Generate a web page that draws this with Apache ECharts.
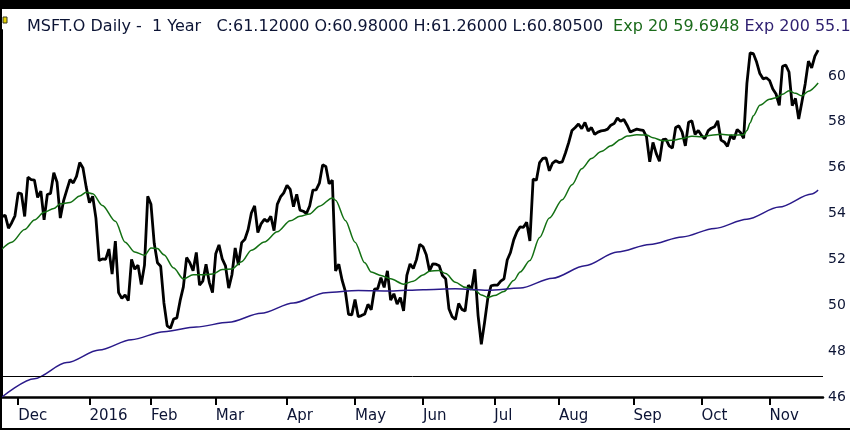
<!DOCTYPE html>
<html>
<head>
<meta charset="utf-8">
<script src="https://cdn.jsdelivr.net/npm/echarts@6/dist/echarts.min.js"></script>
<style>
  html, body { margin: 0; padding: 0; background: #fff; }
  #chart { width: 850px; height: 430px; }
</style>
</head>
<body>
<div id="chart"></div>
<script>
// daily closes, trading day 0 = 23 Nov 2015 ... 252 = 22 Nov 2016
const closeVals = [
  53.88, 53.92, 53.36, 53.60, 53.90, // Nov
  54.90, 54.86, 53.87, 55.58, 55.48, 55.46, 54.70, 54.97, 53.72, 54.83, 54.88,
  55.78, 55.36, 53.80, 54.55, 55.02, 55.48, 55.33, 55.62, 56.22, 55.98, 55.15, // Dec
  54.47, 54.75, 53.80, 51.95, 52.02, 52.00, 52.45, 51.36, 52.80, 50.55, 50.30,
  50.45, 50.20, 52.00, 51.57, 51.75, 50.90, 51.75, 54.75, // Jan
  54.40, 52.70, 51.85, 51.70, 50.10, 49.10, 49.00, 49.40, 49.45, 50.20, 50.80,
  52.08, 51.85, 51.50, 52.30, 50.88, 51.05, 51.79, 51.00, 50.55, // Feb
  52.25, 52.63, 52.02, 51.72, 50.75, 51.33, 52.50, 51.75, 52.73, 52.88, 53.30,
  54.02, 54.33, 53.17, 53.55, 53.75, 53.65, 53.88, 53.25, 54.40, 54.72, 54.90, // Mar
  55.23, 55.05, 54.30, 54.84, 54.15, 54.10, 54.00, 54.33, 55.02, 55.03, 55.32,
  56.12, 56.05, 55.30, 55.45, 51.50, 51.79, 51.10, 50.62, 49.60, 49.58, // Apr
  50.25, 49.50, 49.55, 49.62, 50.04, 49.80, 50.70, 50.72, 51.20, 50.78, 51.50,
  50.22, 50.50, 50.05, 50.33, 49.75, 51.30, 51.80, 51.60, 52.00, 52.66, // May
  52.55, 52.20, 51.50, 51.80, 51.79, 51.72, 51.30, 51.15, 49.85, 49.50, 49.38,
  50.08, 49.82, 49.75, 50.88, 50.68, 51.57, 49.55, 48.30, 49.25, 50.30, 50.85, // Jun
  50.88, 50.88, 51.05, 51.15, 51.97, 52.30, 52.85, 53.20, 53.42, 53.40, 53.62,
  52.80, 55.50, 55.45, 56.22, 56.40, 56.42, 55.86, 56.20, 56.30, // Jul
  56.22, 56.25, 56.65, 57.10, 57.62, 57.75, 57.90, 57.70, 57.97, 57.60, 57.75, 57.45,
  57.55, 57.60, 57.62, 57.68, 57.85, 57.92, 58.16, 58.02, 58.10, 57.85, 57.55, // Aug
  57.62, 57.68, 57.65, 57.62, 57.35, 56.25, 57.10, 56.62, 56.28, 57.22, 57.24,
  56.95, 56.85, 57.75, 57.82, 57.55, 56.95, 57.98, 58.04, 57.45, 57.62, // Sep
  57.40, 57.26, 57.60, 57.72, 57.78, 58.04, 57.20, 57.12, 56.93, 57.40, 57.24,
  57.66, 57.53, 57.28, 59.66, 61.00, 60.97, 60.60, 60.10, 59.87, 59.92, // Oct
  59.80, 59.43, 59.21, 58.71, 60.42, 60.47, 60.17, 58.70, 59.02, 58.12, 58.87,
  59.65, 60.64, 60.35, 60.86, 61.12 // Nov
];

// Exp 20 at these trading days
const ema20Days = [0, 3, 7, 10, 13, 16, 18, 21, 24, 26, 28, 31, 35, 38, 41, 44, 46, 48, 50, 53,
  56, 59, 62, 65, 68, 71, 74, 77, 81, 85, 89, 92, 95, 98, 102, 103, 106, 109, 112, 114,
  117, 120, 124, 127, 130, 132, 135, 137, 140, 143, 146, 148, 150, 152, 155, 158, 160, 163, 166, 169,
  173, 176, 179, 182, 185, 188, 191, 193, 196, 199, 201, 204, 207, 210, 213, 216, 219, 222, 225, 229,
  230, 231, 232, 234, 237, 239, 241, 243, 245, 247, 249, 252];
const ema20Vals = [52.45, 52.75, 53.30, 53.72, 54.05, 54.22, 54.42, 54.48, 54.76, 54.93, 54.86, 54.35, 53.66, 52.75, 52.32, 52.18, 52.50, 52.47, 52.20, 51.62,
  51.15, 51.33, 51.33, 51.36, 51.56, 51.58, 51.90, 52.40, 52.76, 53.20, 53.68, 53.88, 53.98, 54.32, 54.68, 54.58, 53.70, 52.75, 51.85, 51.45,
  51.30, 51.15, 50.92, 51.05, 51.32, 51.48, 51.52, 51.38, 51.00, 50.78, 50.66, 50.45, 50.34, 50.42, 50.60, 51.08, 51.45, 51.95, 52.95, 53.80,
  54.60, 55.25, 55.95, 56.40, 56.70, 56.95, 57.23, 57.38, 57.43, 57.42, 57.30, 57.17, 57.19, 57.27, 57.37, 57.35, 57.41, 57.45, 57.42, 57.43,
  57.62, 57.95, 58.26, 58.72, 58.98, 59.05, 59.20, 59.35, 59.24, 59.13, 59.33, 59.69];

// Exp 200
const ema200Days = [0, 10, 20, 30, 40, 50, 60, 70, 80, 90, 100, 110, 120, 130, 140,
  150, 160, 170, 180, 190, 200, 210, 220, 230, 240, 250, 252];
const ema200Vals = [46.00, 46.80, 47.50, 48.05, 48.50, 48.85, 49.05, 49.26, 49.65, 50.10, 50.55, 50.64, 50.62, 50.68, 50.72,
  50.65, 50.75, 51.18, 51.72, 52.32, 52.65, 52.98, 53.35, 53.75, 54.28, 54.85, 55.02];

// first trading day of each month
const monthDays = [5, 27, 46, 66, 88, 109, 130, 152, 172, 195, 216, 237];
const monthLabels = ['Dec', '2016', 'Feb', 'Mar', 'Apr', 'May', 'Jun', 'Jul', 'Aug', 'Sep', 'Oct', 'Nov'];

const refLevel = 46.9;

const font = 'DejaVu Sans';
const navy = '#0c1435';

const myChart = echarts.init(document.getElementById('chart'));

myChart.setOption({
  animation: false,
  backgroundColor: '#fff',
  title: {
    left: 22,
    top: 12,
    text: '{a|MSFT.O Daily -  1 Year   C:61.12000 O:60.98000 H:61.26000 L:60.80500}  {g|Exp 20 59.6948} {p|Exp 200 55.16}',
    textStyle: {
      fontWeight: 'normal',
      rich: {
        a: { fontFamily: font, fontSize: 16, fontWeight: 'normal', color: navy, lineHeight: 20 },
        g: { fontFamily: font, fontSize: 16, fontWeight: 'normal', color: '#1b6b1b', lineHeight: 20 },
        p: { fontFamily: font, fontSize: 16, fontWeight: 'normal', color: '#2e1f70', lineHeight: 20 }
      }
    }
  },
  graphic: [
    { type: 'rect', shape: { x: 0, y: 0, width: 850, height: 9 }, style: { fill: '#000' }, z: 100 },
    { type: 'rect', shape: { x: 0, y: 0, width: 2, height: 430 }, style: { fill: '#000' }, z: 100 },
    { type: 'rect', shape: { x: 0, y: 428, width: 850, height: 2 }, style: { fill: '#000' }, z: 100 },
    { type: 'rect', shape: { x: 3, y: 17, width: 4, height: 6 }, style: { fill: '#e6d400', stroke: '#3a3a20', lineWidth: 1 }, z: 100 }
  ],
  grid: { left: 2, right: 27, top: 30, bottom: 33 },
  xAxis: {
    type: 'value',
    min: 0,
    max: 253.5,
    splitLine: { show: false },
    axisLine: { show: true, lineStyle: { color: '#000', width: 2.5 } },
    axisTick: {
      show: true,
      customValues: monthDays,
      length: 8,
      lineStyle: { color: '#000', width: 2 }
    },
    axisLabel: {
      customValues: monthDays,
      formatter: v => monthLabels[monthDays.indexOf(v)],
      align: 'left',
      margin: 12,
      fontFamily: font,
      fontSize: 15,
      color: navy
    }
  },
  yAxis: {
    type: 'value',
    position: 'right',
    min: 46,
    max: 62,
    interval: 2,
    splitLine: { show: false },
    axisLine: { show: true, lineStyle: { color: '#000', width: 2 } },
    axisTick: { show: false },
    axisLabel: {
      showMaxLabel: false,
      margin: 5,
      fontFamily: font,
      fontSize: 14,
      color: navy
    }
  },
  series: [
    {
      name: 'Close',
      type: 'line',
      data: closeVals.map((v, i) => [i, v]),
      showSymbol: false,
      lineStyle: { color: '#000', width: 2.8 },
      markLine: {
        silent: true,
        symbol: 'none',
        label: { show: false },
        lineStyle: { color: '#000', width: 1, type: 'solid' },
        data: [{ yAxis: refLevel }]
      }
    },
    {
      name: 'Exp 20',
      type: 'line',
      data: ema20Days.map((d, i) => [d, ema20Vals[i]]),
      showSymbol: false,
      smooth: 0.3,
      smoothMonotone: 'x',
      lineStyle: { color: '#137013', width: 1.5 }
    },
    {
      name: 'Exp 200',
      type: 'line',
      data: ema200Days.map((d, i) => [d, ema200Vals[i]]),
      showSymbol: false,
      smooth: 0.3,
      smoothMonotone: 'x',
      lineStyle: { color: '#2a1a8a', width: 1.5 }
    }
  ]
});
</script>
</body>
</html>
